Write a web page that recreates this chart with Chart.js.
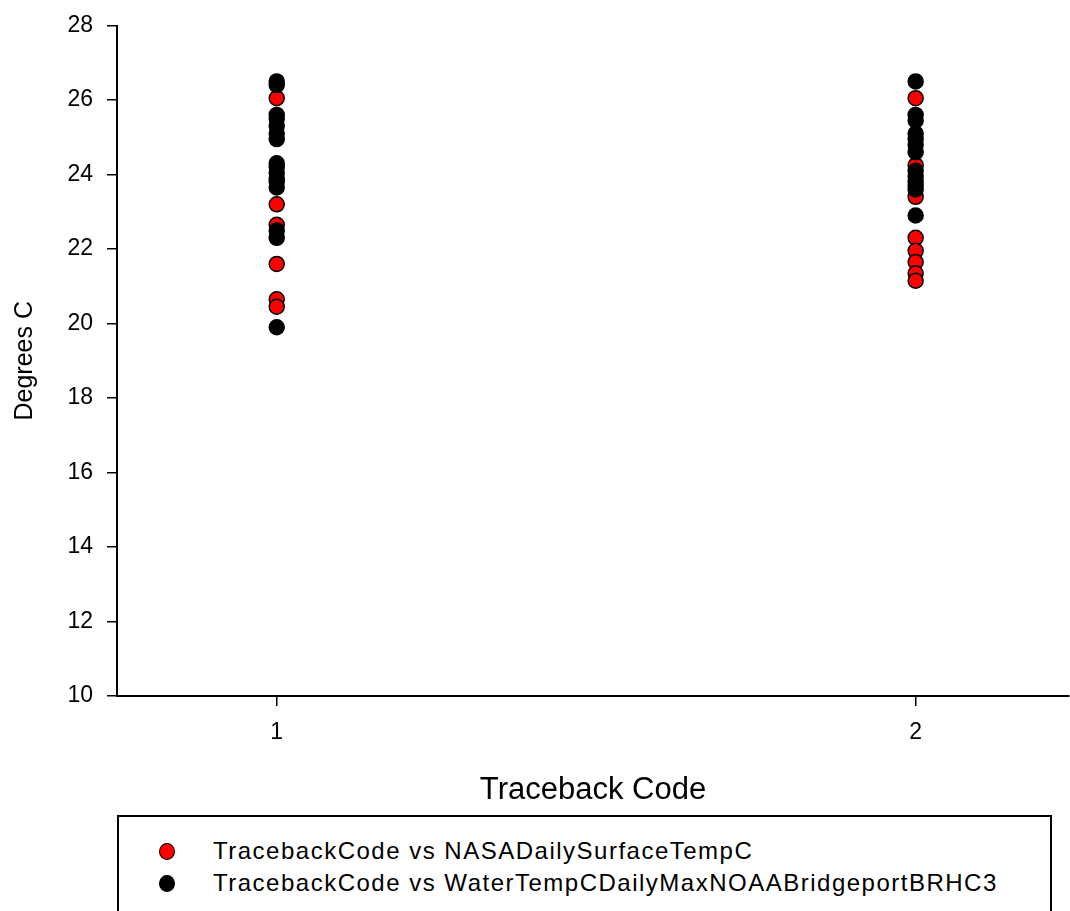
<!DOCTYPE html>
<html>
<head>
<meta charset="utf-8">
<script src="https://cdn.jsdelivr.net/npm/chart.js@4"></script>
<style>
    html, body { margin: 0; padding: 0; background: #fff; overflow: hidden; }
    #wrap { position: relative; width: 1070px; height: 911px; overflow: hidden; }
    #chartBox { position: absolute; left: 0; top: 0; width: 1078px; height: 811px; }
    #legend {
        position: absolute; left: 117px; top: 815px; width: 935px; height: 120px;
        border: 2px solid #000; box-sizing: border-box;
        font-family: 'Liberation Sans', Arial, sans-serif; font-size: 24px; letter-spacing: 1.5px; color: #000;
    }
    .item { position: absolute; left: 0; height: 28px; line-height: 28px; white-space: nowrap; }
    .dot { position: absolute; left: 40px; top: 6px; width: 16px; height: 17px; border-radius: 50%; border: 1.5px solid #000; box-sizing: border-box; }
    .label { position: absolute; left: 94px; top: 0; }
</style>
</head>
<body>
<div id="wrap">
    <div id="chartBox"><canvas id="scatterChart"></canvas></div>
    <div id="legend">
        <div class="item" style="top: 20px;"><span class="dot" style="background: #ff0000;"></span><span class="label">TracebackCode vs NASADailySurfaceTempC</span></div>
        <div class="item" style="top: 52px;"><span class="dot" style="background: #000;"></span><span class="label">TracebackCode vs WaterTempCDailyMaxNOAABridgeportBRHC3</span></div>
    </div>
</div>
<script>
// Values, per traceback code
const nasaCode1 = [26.05, 23.2, 22.65, 21.6, 20.65, 20.45];
const nasaCode2 = [26.05, 24.25, 23.4, 22.3, 21.95, 21.65, 21.35, 21.15];
const noaaCode1 = [26.5, 26.4, 25.6, 25.5, 25.3, 25.1, 24.95, 24.3, 24.2, 24.05, 23.9, 23.8, 23.65, 22.5, 22.3, 19.9];
const noaaCode2 = [26.5, 25.6, 25.45, 25.1, 24.95, 24.8, 24.6, 24.1, 23.95, 23.8, 23.7, 23.6, 22.9];
const xTicks = [1, 2];
const yTicks = [10, 12, 14, 16, 18, 20, 22, 24, 26, 28];

function toPoints(code, values) {
    return values.map(v => ({ x: code, y: v }));
}

const font = 'Liberation Sans';

document.addEventListener('DOMContentLoaded', function() {
    const ctx = document.getElementById('scatterChart');
    new Chart(ctx, {
        type: 'scatter',
        data: {
            datasets: [{
                // black series drawn on top, as in the reference
                label: 'TracebackCode vs WaterTempCDailyMaxNOAABridgeportBRHC3',
                data: toPoints(1, noaaCode1).concat(toPoints(2, noaaCode2)),
                backgroundColor: '#000000',
                borderColor: '#000000',
                borderWidth: 1.5,
                pointRadius: 7.5
            }, {
                label: 'TracebackCode vs NASADailySurfaceTempC',
                data: toPoints(1, nasaCode1).concat(toPoints(2, nasaCode2)),
                backgroundColor: '#ff0000',
                borderColor: '#000000',
                borderWidth: 1.5,
                pointRadius: 7.5
            }]
        },
        options: {
            responsive: true,
            maintainAspectRatio: false,
            animation: false,
            layout: { padding: { top: 25, right: 0, left: 0, bottom: 0 } },
            plugins: {
                legend: { display: false },
                tooltip: { enabled: false }
            },
            scales: {
                x: {
                    type: 'linear',
                    min: 0.75,
                    max: 2.24,
                    afterBuildTicks: scale => { scale.ticks = xTicks.map(v => ({ value: v })); },
                    afterFit: scale => { scale.height = 115; },
                    border: { color: '#000', width: 2 },
                    grid: { drawOnChartArea: false, tickLength: 10, color: '#000', lineWidth: 1.5 },
                    ticks: { color: '#000', padding: 13, font: { family: font, size: 23 } },
                    title: {
                        display: true,
                        text: 'Traceback Code',
                        color: '#000',
                        font: { family: font, size: 31 },
                        padding: { top: 0, bottom: 2 }
                    }
                },
                y: {
                    min: 10,
                    max: 28,
                    afterBuildTicks: scale => { scale.ticks = yTicks.map(v => ({ value: v })); },
                    afterFit: scale => { scale.width = 117; },
                    border: { color: '#000', width: 2 },
                    grid: { drawOnChartArea: false, tickLength: 10, color: '#000', lineWidth: 1.5 },
                    ticks: { color: '#000', padding: 14, font: { family: font, size: 23, lineHeight: 1.0 } },
                    title: {
                        display: true,
                        text: 'Degrees C',
                        color: '#000',
                        font: { family: font, size: 25 },
                        padding: { top: 10, bottom: 0 }
                    }
                }
            }
        }
    });
});
</script>
</body>
</html>
